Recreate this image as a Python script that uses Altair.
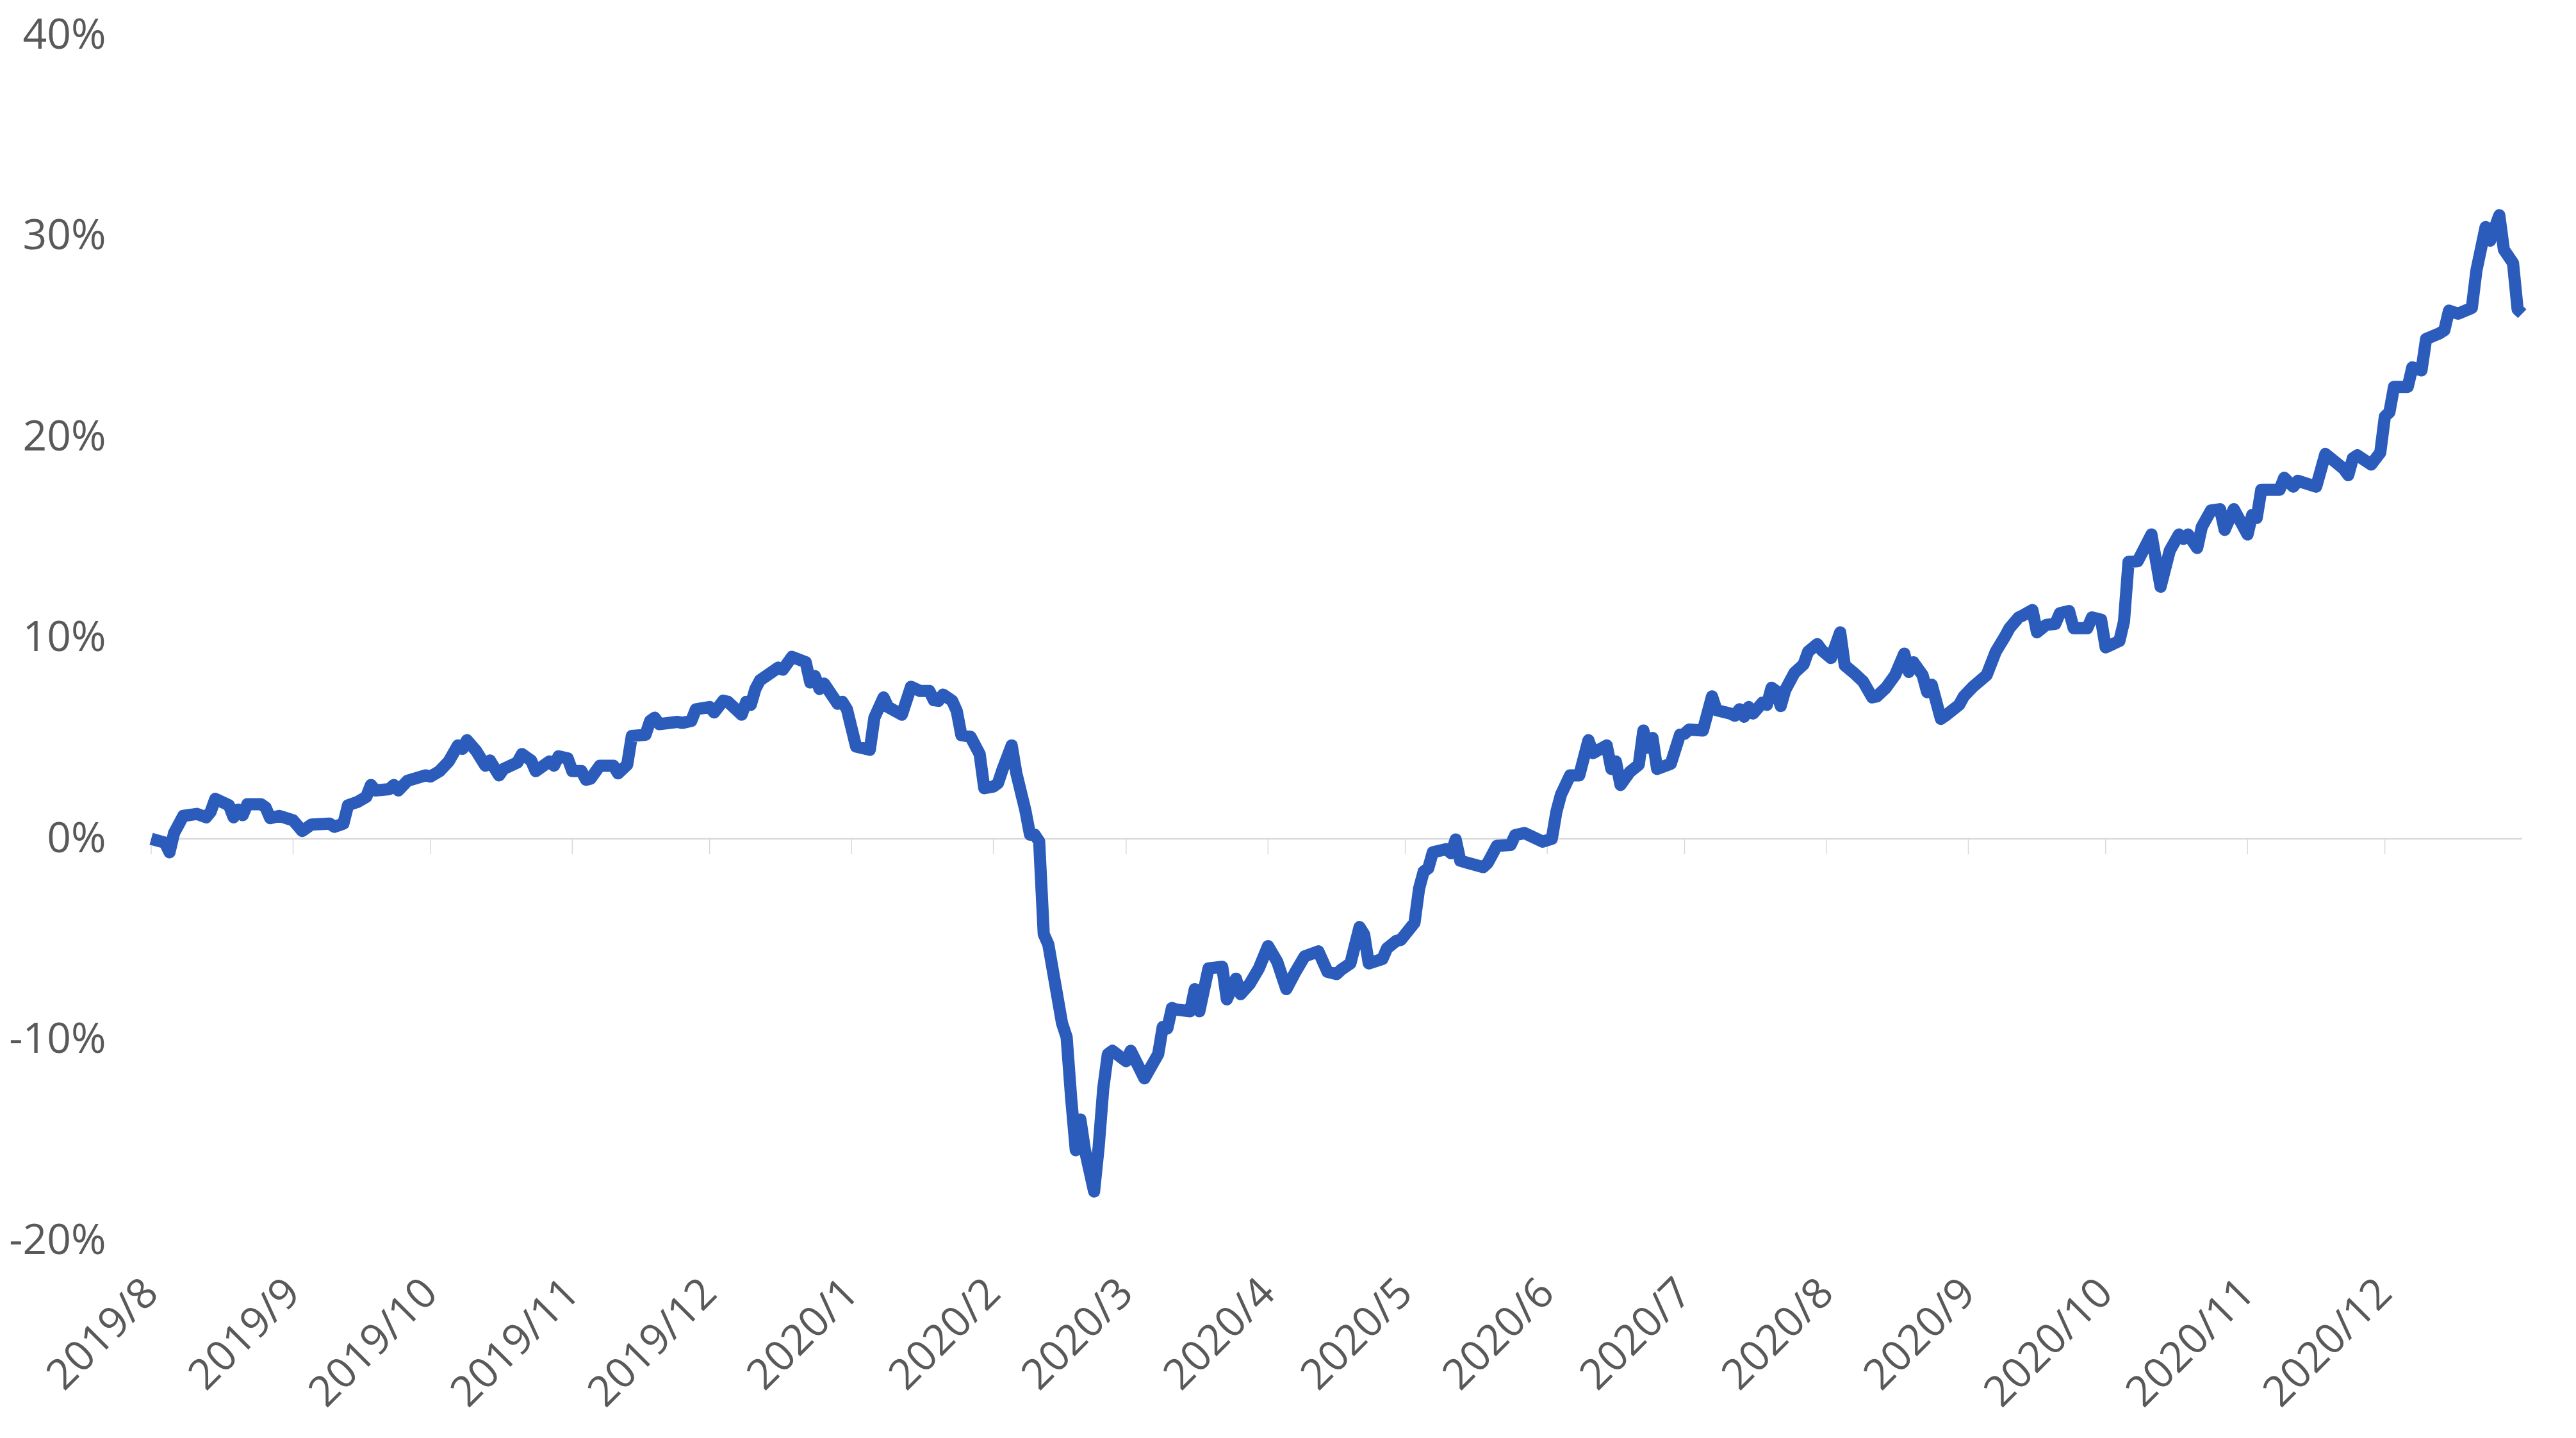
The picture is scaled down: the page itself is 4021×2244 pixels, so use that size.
import altair as alt
import pandas as pd

# ---- data (cumulative return, %) ----
months = ["2019-08", "2019-09", "2019-10", "2019-11", "2019-12",
          "2020-01", "2020-02", "2020-03", "2020-04", "2020-05", "2020-06",
          "2020-07", "2020-08", "2020-09", "2020-10", "2020-11", "2020-12"]

days_by_month = [
    [1, 4, 5, 6, 8, 11, 13, 14, 15, 18, 19, 20, 21, 22, 25, 26, 27, 29],
    [1, 3, 5, 9, 10, 12, 13, 15, 17, 18, 19, 22, 23, 24, 26, 30],
    [1, 3, 5, 7, 8, 9, 11, 13, 14, 16, 17, 20, 21, 23, 24, 27, 28, 29, 31],
    [1, 3, 4, 5, 7, 10, 11, 13, 14, 17, 18, 19, 20, 24, 25, 27, 28],
    [1, 2, 4, 5, 8, 9, 10, 11, 12, 16, 17, 19, 22, 23, 24, 25, 26, 29, 30, 31],
    [2, 5, 6, 8, 9, 12, 14, 16, 18, 19, 20, 21, 23, 24, 25, 27, 28, 29, 30],
    [1, 2, 3, 5, 6, 8, 9, 10, 11, 12, 13, 16, 17, 18, 19, 20, 21, 23, 24, 25, 26, 27],
    [1, 2, 5, 8, 9, 10, 11, 12, 15, 16, 17, 19, 22, 23, 25, 26, 28, 30],
    [1, 3, 5, 7, 9, 12, 14, 16, 17, 19, 21, 22, 23, 26, 27, 29, 30],
    [3, 4, 5, 6, 7, 10, 11, 12, 13, 18, 19, 21, 24, 25, 27, 31],
    [2, 3, 4, 6, 8, 10, 11, 14, 15, 16, 17, 19, 21, 22, 23, 24, 25, 28, 30],
    [1, 2, 5, 7, 8, 11, 12, 13, 14, 15, 16, 18, 19, 20, 21, 22, 23, 25, 27, 28, 30, 31],
    [2, 4, 5, 7, 9, 11, 12, 14, 16, 18, 19, 20, 22, 23, 24, 26, 27, 30, 31],
    [2, 5, 7, 9, 10, 12, 13, 15, 16, 18, 20, 21, 23, 24, 27, 28, 30],
    [1, 4, 5, 6, 8, 11, 13, 15, 17, 18, 19, 21, 22, 24, 26, 27, 29],
    [1, 2, 3, 4, 8, 9, 11, 12, 16, 18, 20, 22, 23, 24, 25, 28, 30],
    [1, 2, 3, 6, 7, 9, 10, 13, 14, 15, 17, 20, 21, 23, 24, 26, 27, 29, 30, 31],
]

values_by_month = [
    [0.00, -0.19, -0.67, 0.29, 1.14, 1.24, 1.07, 1.35, 1.99, 1.67, 1.07, 1.45, 1.18, 1.72, 1.72, 1.56, 1.03, 1.14],
    [0.92, 0.39, 0.71, 0.76, 0.60, 0.76, 1.67, 1.83, 2.09, 2.68, 2.41, 2.47, 2.68, 2.41, 2.89, 3.16],
    [3.10, 3.37, 3.85, 4.65, 4.48, 4.91, 4.38, 3.64, 3.90, 3.16, 3.48, 3.80, 4.22, 3.90, 3.37, 3.85, 3.64, 4.11, 4.00],
    [3.37, 3.37, 2.94, 3.00, 3.64, 3.64, 3.26, 3.69, 5.12, 5.18, 5.87, 6.03, 5.71, 5.82, 5.77, 5.87, 6.45],
    [6.56, 6.29, 6.88, 6.82, 6.18, 6.82, 6.67, 7.46, 7.89, 8.52, 8.42, 9.06, 8.79, 7.78, 8.10, 7.46, 7.73, 6.72, 6.82, 6.45],
    [4.59, 4.43, 6.03, 7.04, 6.56, 6.18, 7.57, 7.36, 7.36, 6.90, 6.87, 7.18, 6.87, 6.36, 5.16, 5.08, 4.65, 4.22, 2.52],
    [2.60, 2.77, 3.45, 4.65, 3.28, 1.40, 0.21, 0.21, -0.13, -4.74, -5.26, -9.18, -9.87, -12.94, -15.50, -13.97, -15.50, -17.55, -15.33, -12.43, -10.72, -10.55],
    [-11.07, -10.55, -11.92, -10.72, -9.36, -9.44, -8.42, -8.50, -8.58, -7.48, -8.58, -6.45, -6.37, -7.99, -6.96, -7.73, -7.22, -6.45],
    [-5.34, -6.11, -7.48, -6.62, -5.85, -5.60, -6.62, -6.73, -6.51, -6.20, -4.39, -4.76, -6.20, -5.98, -5.45, -5.08, -5.03],
    [-4.18, -2.48, -1.63, -1.47, -0.67, -0.51, -0.72, -0.03, -1.09, -1.41, -1.20, -0.35, -0.30, 0.18, 0.29, -0.14],
    [0.00, 1.35, 2.20, 3.16, 3.16, 4.91, 4.27, 4.65, 3.48, 3.85, 2.68, 3.32, 3.69, 5.39, 4.54, 5.02, 3.48, 3.74, 5.18],
    [5.23, 5.44, 5.39, 7.09, 6.40, 6.24, 6.13, 6.45, 6.08, 6.56, 6.24, 6.77, 6.67, 7.52, 7.36, 6.61, 7.41, 8.26, 8.68, 9.32, 9.69, 9.38],
    [9.00, 10.28, 8.63, 8.26, 7.83, 7.04, 7.09, 7.52, 8.15, 9.22, 8.31, 8.79, 8.15, 7.30, 7.67, 5.97, 6.13, 6.67, 7.09],
    [7.57, 8.15, 9.32, 10.07, 10.49, 11.02, 11.13, 11.39, 10.28, 10.65, 10.70, 11.23, 11.34, 10.49, 10.49, 11.02, 10.91],
    [9.53, 9.85, 10.81, 13.79, 13.82, 15.15, 12.55, 14.34, 15.15, 14.93, 15.15, 14.48, 15.52, 16.34, 16.41, 15.38, 16.41],
    [15.15, 16.12, 15.97, 17.38, 17.38, 17.97, 17.53, 17.82, 17.53, 19.16, 18.79, 18.42, 18.10, 18.94, 19.09, 18.63, 19.23],
    [21.02, 21.24, 22.50, 22.50, 23.47, 23.32, 24.88, 25.17, 25.32, 26.29, 26.14, 26.43, 28.29, 30.45, 29.78, 31.04, 29.33, 28.66, 26.36, 26.14],
]

y_ticks = [-20, -10, 0, 10, 20, 30, 40]

# ---- build tables ----
rows = []
for m, ds, vs in zip(months, days_by_month, values_by_month):
    assert len(ds) == len(vs), m
    for d, v in zip(ds, vs):
        rows.append({"date": f"{m}-{d:02d}T00:00:00", "value": v})
df = pd.DataFrame(rows)
month_df = pd.DataFrame({"date": [f"{m}-01T00:00:00" for m in months]})
zero_df = pd.DataFrame({"value": [0]})

x_scale = alt.Scale(domain=[alt.DateTime(year=2019, month=8, date=1),
                            alt.DateTime(year=2020, month=12, date=31)])
x_axis = alt.Axis(
    title=None,
    values=[alt.DateTime(year=int(m[:4]), month=int(m[5:]), date=1) for m in months],
    format="%Y/%-m",
    labelAngle=-45,
    labelAlign="right",
    labelBaseline="middle",
    labelPadding=71,
    labelOffset=0,
    labelOverlap=False,
    labelFlush=False,
    labelLimit=0,
)
y_scale = alt.Scale(domain=[-20, 40], nice=False, zero=False)
y_axis = alt.Axis(
    title=None,
    values=y_ticks,
    labelExpr="datum.value + '%'",
    labelPadding=71,
    labelFlush=False,
    labelLimit=0,
)

zero_rule = alt.Chart(zero_df).mark_rule(color="#d9d9d9", strokeWidth=2.5).encode(
    y=alt.Y("value:Q", scale=y_scale, axis=y_axis)
)

month_ticks = alt.Chart(month_df).mark_rule(
    color="#d9d9d9", strokeWidth=1.5, y2Offset=24
).encode(
    x=alt.X("date:T", scale=x_scale, axis=x_axis),
    y=alt.YDatum(0, scale=y_scale, axis=y_axis),
    y2=alt.Y2Datum(0),
)

line = alt.Chart(df).mark_line(
    color="#2b5cbb", strokeWidth=19, strokeJoin="round", strokeCap="butt"
).encode(
    x=alt.X("date:T", scale=x_scale, axis=x_axis),
    y=alt.Y("value:Q", scale=y_scale, axis=y_axis),
)

chart = alt.layer(zero_rule, month_ticks, line).properties(
    width=3701,
    height=1881,
    padding={"left": 228, "top": 47, "right": 60, "bottom": 290},
    autosize=alt.AutoSizeParams(type="none"),
).configure_view(
    stroke=None
).configure_axis(
    domain=False,
    ticks=False,
    tickSize=0,
    grid=False,
    labelFont="Open Sans",
    labelFontSize=66,
    labelColor="#595959",
)

chart.save("out.html", embed_options={"renderer": "svg", "actions": False})
